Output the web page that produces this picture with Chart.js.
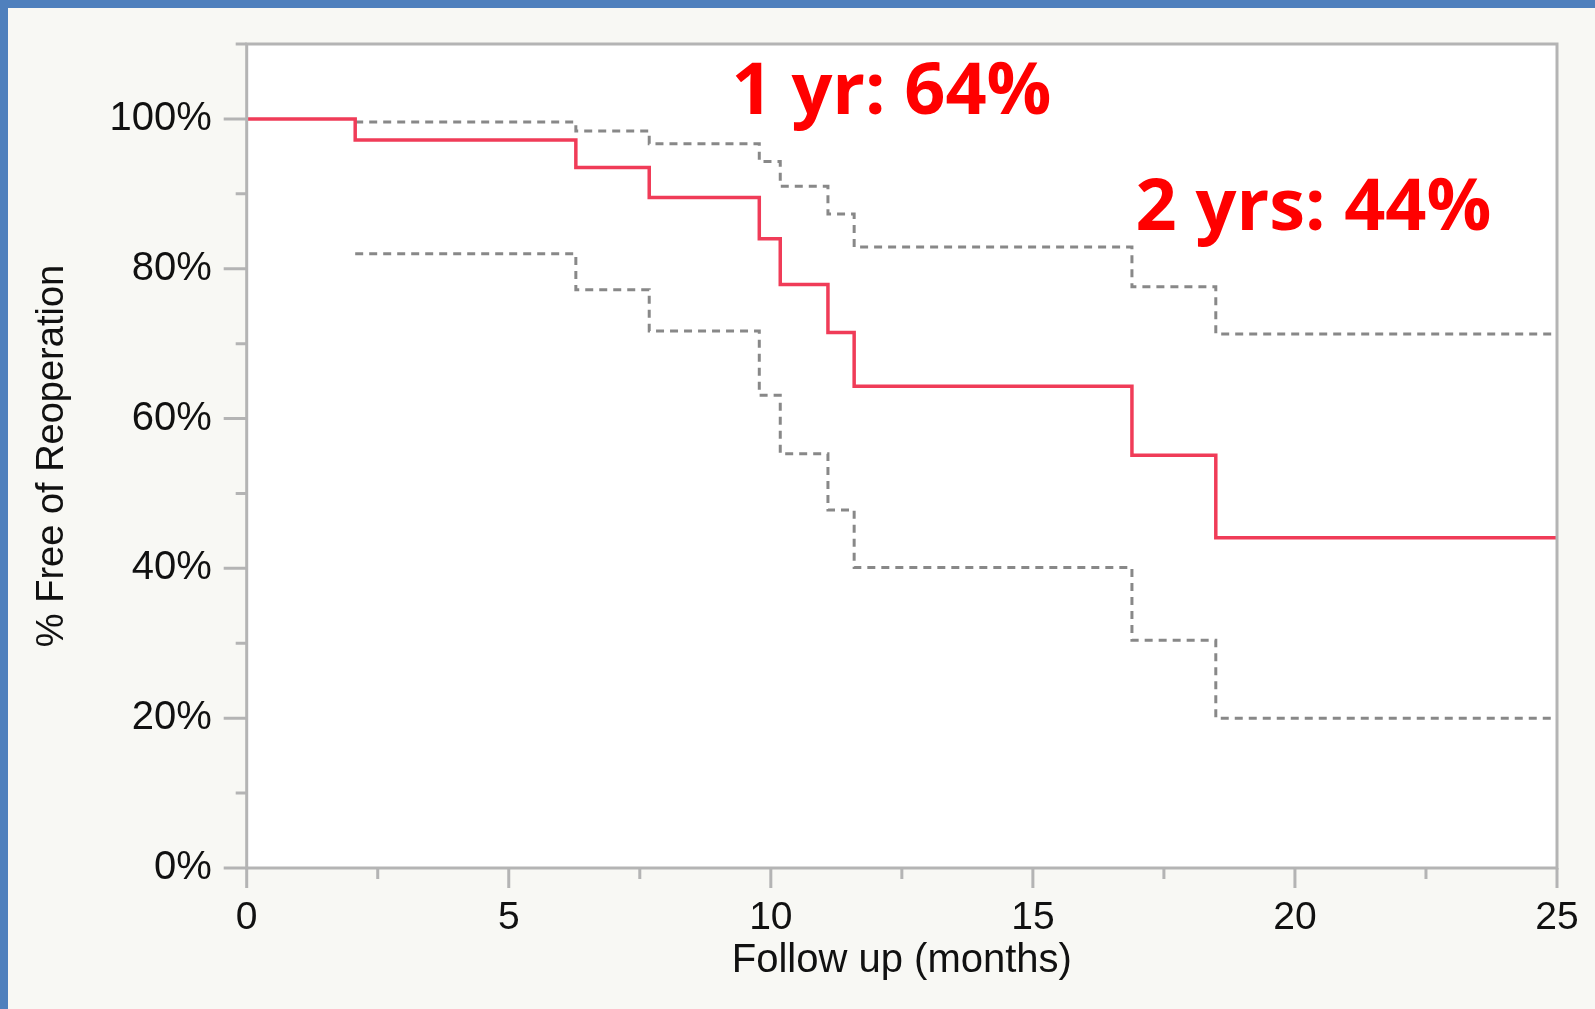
<!DOCTYPE html>
<html>
<head>
<meta charset="utf-8">
<script src="https://cdn.jsdelivr.net/npm/chart.js@4.4.0/dist/chart.umd.min.js"></script>
<style>
  html, body { margin: 0; padding: 0; background: #4f80bd; overflow: hidden; }
  #wrap { position: absolute; left: 8px; top: 8px; width: 1587px; height: 1001px; background: #f8f8f4; }
</style>
</head>
<body>
<div id="wrap"><canvas id="chart" width="1587" height="1001"></canvas></div>
<script>
'use strict';

// Kaplan-Meier estimate (months, % free of reoperation)
const months = [0, 2.07, 6.28, 7.68, 9.78, 10.18, 11.09, 11.59, 16.89, 18.49, 25];
const freeOfReop = [100, 97.2, 93.5, 89.5, 84.0, 77.9, 71.5, 64.3, 55.1, 44.1, 44.1];

// confidence band starts at the first event
const ciMonths = [2.07, 6.28, 7.68, 9.78, 10.18, 11.09, 11.59, 16.89, 18.49, 25];
const upperCI = [99.6, 98.4, 96.7, 94.3, 91.0, 87.3, 82.9, 77.6, 71.3, 71.3];
const lowerCI = [82.0, 77.2, 71.7, 63.1, 55.3, 47.8, 40.1, 30.4, 20.0, 20.0];

const xLabels = [0, 5, 10, 15, 20, 25];
const yLabels = [0, 20, 40, 60, 80, 100];

const notes = [
    { text: '1 yr: 64%', month: 9.25, pct: 100.7 },
    { text: '2 yrs: 44%', month: 16.96, pct: 85.2 }
];

const axisGray = '#b4b4b4';

function points(xs, ys) {
    return xs.map((x, i) => ({ x: x, y: ys[i] }));
}

const plotFrame = {
    id: 'plotFrame',
    beforeDraw(chart) {
        const { ctx, chartArea: a } = chart;
        ctx.save();
        ctx.fillStyle = '#ffffff';
        ctx.fillRect(a.left, a.top, a.right - a.left, a.bottom - a.top);
        ctx.restore();
    },
    afterDraw(chart) {
        const { ctx, chartArea: a } = chart;
        const xs = chart.scales.x;
        const ys = chart.scales.y;
        ctx.save();
        ctx.strokeStyle = axisGray;
        ctx.lineWidth = 3;
        ctx.strokeRect(a.left, a.top, a.right - a.left, a.bottom - a.top);

        ctx.beginPath();
        xs.ticks.forEach(t => {
            const px = xs.getPixelForValue(t.value);
            const len = xLabels.includes(t.value) ? 20 : 11;
            ctx.moveTo(px, a.bottom);
            ctx.lineTo(px, a.bottom + len);
        });
        ys.ticks.forEach(t => {
            const py = ys.getPixelForValue(t.value);
            const len = yLabels.includes(t.value) ? 23 : 11;
            ctx.moveTo(a.left, py);
            ctx.lineTo(a.left - len, py);
        });
        ctx.stroke();

        ctx.fillStyle = '#ff0000';
        ctx.font = '700 72px "Open Sans"';
        ctx.textAlign = 'left';
        ctx.textBaseline = 'alphabetic';
        notes.forEach(n => {
            ctx.fillText(n.text, xs.getPixelForValue(n.month), ys.getPixelForValue(n.pct));
        });
        ctx.restore();
    }
};

const data = {
    datasets: [{
        label: 'Free of reoperation',
        data: points(months, freeOfReop),
        stepped: 'before',
        borderColor: 'rgb(240, 60, 88)',
        borderWidth: 3.5,
        pointRadius: 0,
        fill: false
    }, {
        label: 'Upper 95% CI',
        data: points(ciMonths, upperCI),
        stepped: 'before',
        borderColor: '#888888',
        borderWidth: 3,
        borderDash: [8, 6],
        pointRadius: 0,
        fill: false
    }, {
        label: 'Lower 95% CI',
        data: points(ciMonths, lowerCI),
        stepped: 'before',
        borderColor: '#888888',
        borderWidth: 3,
        borderDash: [8, 6],
        pointRadius: 0,
        fill: false
    }]
};

const config = {
    type: 'line',
    data: data,
    plugins: [plotFrame],
    options: {
        responsive: false,
        animation: false,
        devicePixelRatio: 1,
        layout: { padding: { top: 36, right: 38, left: 0, bottom: 0 } },
        plugins: {
            legend: { display: false },
            tooltip: { enabled: false }
        },
        scales: {
            x: {
                type: 'linear',
                min: 0,
                max: 25,
                afterFit: scale => { scale.height = 141; },
                border: { display: false },
                grid: { drawOnChartArea: false, drawTicks: true, tickLength: 20, tickColor: 'transparent' },
                ticks: {
                    stepSize: 2.5,
                    autoSkip: false,
                    maxRotation: 0,
                    padding: 7,
                    color: '#111111',
                    font: { family: '"Liberation Sans", Arial, sans-serif', size: 39 },
                    callback: v => xLabels.includes(v) ? String(v) : ''
                },
                title: {
                    display: true,
                    text: 'Follow up (months)',
                    color: '#111111',
                    font: { family: '"Liberation Sans", Arial, sans-serif', size: 40 },
                    padding: { top: 0, bottom: 24 }
                }
            },
            y: {
                min: 0,
                max: 110,
                afterFit: scale => { scale.width = 238.7; },
                border: { display: false },
                grid: { drawOnChartArea: false, drawTicks: true, tickLength: 23, tickColor: 'transparent' },
                ticks: {
                    stepSize: 10,
                    autoSkip: false,
                    padding: 12,
                    color: '#111111',
                    font: { family: '"Liberation Sans", Arial, sans-serif', size: 40 },
                    callback: v => yLabels.includes(v) ? v + '%' : ''
                },
                title: {
                    display: true,
                    text: '% Free of Reoperation',
                    color: '#111111',
                    font: { family: '"Liberation Sans", Arial, sans-serif', size: 38 },
                    padding: { top: 22, bottom: 0 }
                }
            }
        }
    }
};

new Chart(document.querySelector('#chart'), config);
</script>
</body>
</html>
